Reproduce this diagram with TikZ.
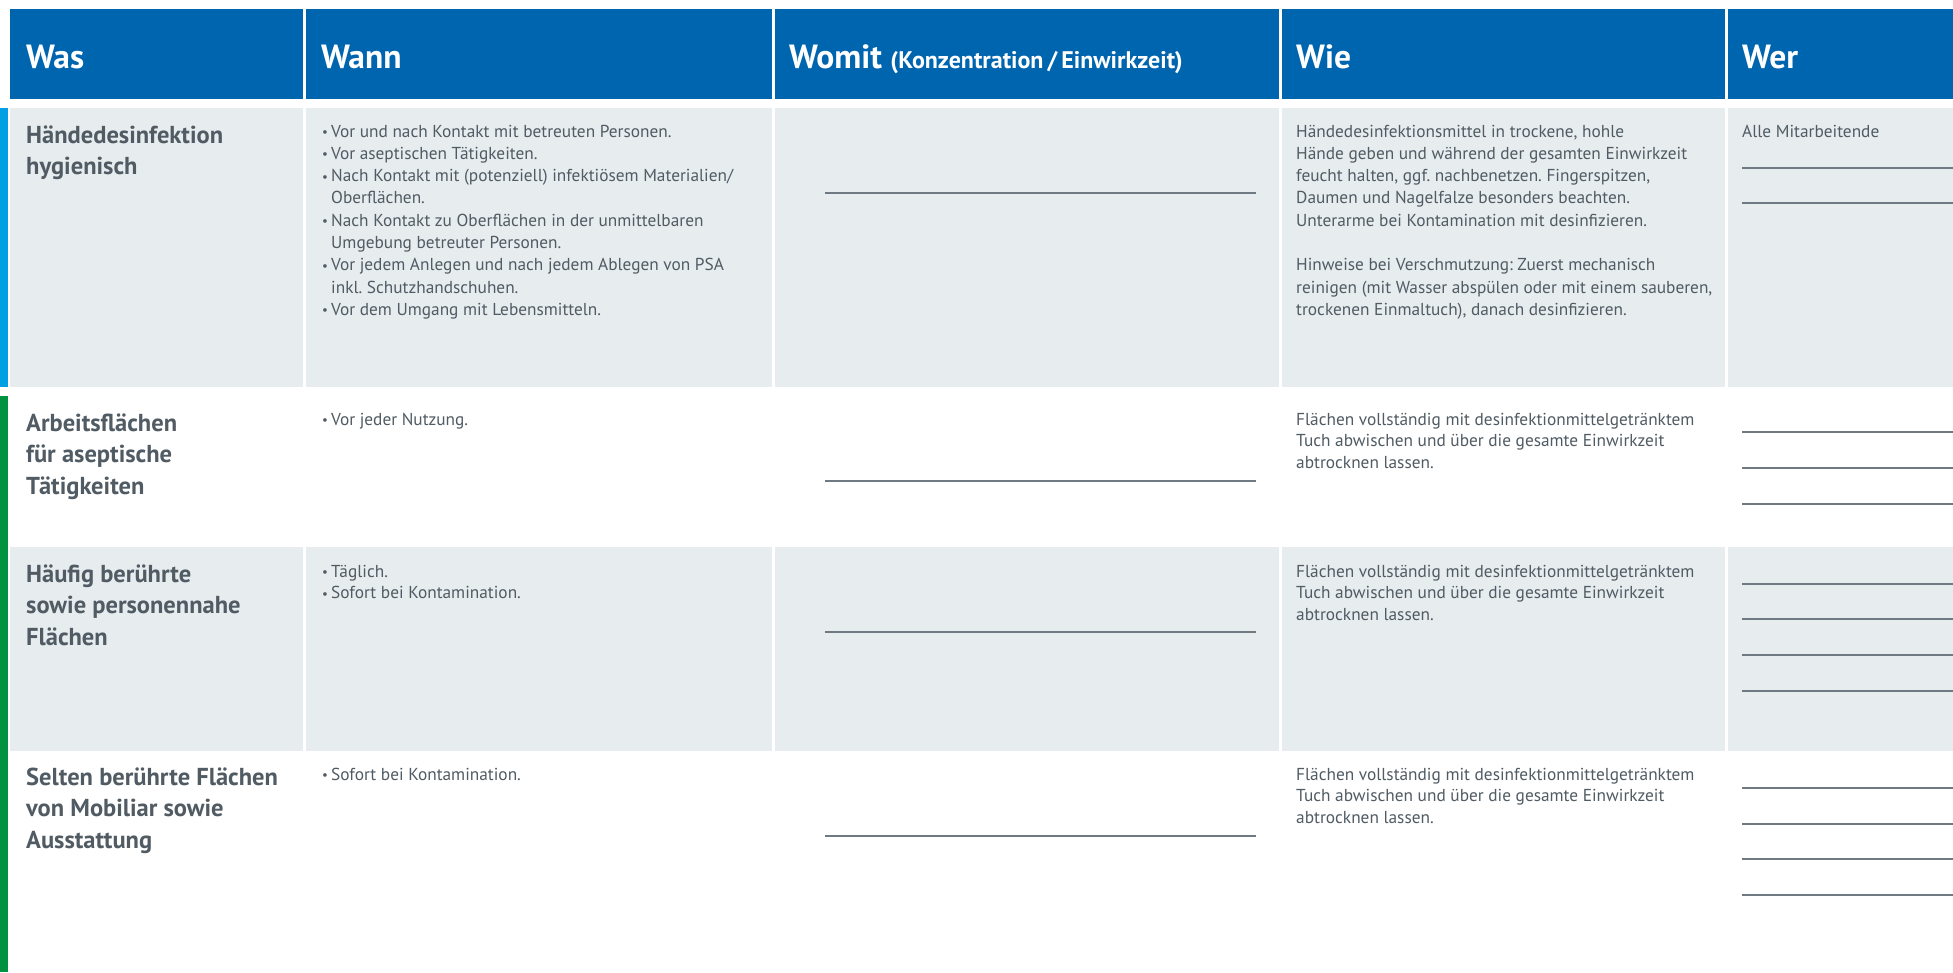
\documentclass[tikz,border=0pt]{standalone}
\usepackage{fontspec}
\setmainfont{PT Sans}
\usetikzlibrary{positioning}
\frenchspacing
\definecolor{hdrBlue}{RGB}{0,101,175}
\definecolor{barBlue}{RGB}{0,160,227}
\definecolor{barGreen}{RGB}{0,146,63}
\definecolor{cellGray}{RGB}{231,236,239}
\definecolor{clrText}{RGB}{80,91,99}
\definecolor{clrLine}{RGB}{110,121,129}
% nodes sit on the baseline of their last line
\tikzstyle{head}=[anchor=base west, inner sep=0pt, text=white, font=\fontsize{33.5}{36}\selectfont\bfseries]
\tikzstyle{rowtitle}=[anchor=base west, inner sep=0pt, align=left, text=clrText, font=\fontsize{24.5}{31.5}\selectfont\bfseries]
\tikzstyle{celltext}=[anchor=base west, inner sep=0pt, align=left, text=clrText, font=\fontsize{17.3}{22.3}\selectfont]
\tikzstyle{celltext2}=[celltext, font=\fontsize{17.3}{21.6}\selectfont]
\tikzstyle{fillline}=[draw=clrLine, line width=1.6pt]
\newcommand{\bul}{\makebox[9pt][l]{\raisebox{0.5pt}{\fontsize{13}{13}\selectfont •}}}
\newcommand{\ind}{\hspace*{9pt}}
\begin{document}
\begin{tikzpicture}[x=1pt, y=-1pt]
		\useasboundingbox[fill=white] (0,0) rectangle (1953,972);

		% Kopfzeile und graue Zeilen
		\foreach \xa/\xb in {10/303, 306/772, 775/1279, 1282/1725, 1728/1953} {
			\fill[hdrBlue] (\xa,9) rectangle (\xb,99);
			\fill[cellGray] (\xa,108) rectangle (\xb,387);
			\fill[cellGray] (\xa,547) rectangle (\xb,751);
		}
		\fill[barBlue] (0,108) rectangle (8,387) ;
		\fill[barGreen] (0,396) rectangle (8,972) ;

		\node[head] (Was) at (26,68) {Was} ;
		\node[head] (Wann) at (321,68) {Wann} ;
		\node[head] (Womit) at (789,68) {Womit {\fontsize{24}{26}\selectfont (Konzentration\,/\,Einwirkzeit)}} ;
		\node[head] (Wie) at (1296,68) {Wie} ;
		\node[head] (Wer) at (1742,68) {Wer} ;

		% Zeile 1
		\node[rowtitle] (L1) at (26,174.5) {Händedesinfektion\\hygienisch} ;
		\node[celltext] (T1) at (322,315.4) {\bul Vor und nach Kontakt mit betreuten Personen.\\
			\bul Vor aseptischen Tätigkeiten.\\
			\bul Nach Kontakt mit (potenziell) infektiösem Materialien/\\
			\ind Oberflächen.\\
			\bul Nach Kontakt zu Oberflächen in der unmittelbaren\\
			\ind Umgebung betreuter Personen.\\
			\bul Vor jedem Anlegen und nach jedem Ablegen von PSA\\
			\ind inkl. Schutzhandschuhen.\\
			\bul Vor dem Umgang mit Lebensmitteln.} ;
		\node[celltext] (H1) at (1296,315.4) {Händedesinfektionsmittel in trockene, hohle\\
			Hände geben und während der gesamten Einwirkzeit\\
			feucht halten, ggf. nachbenetzen. Fingerspitzen,\\
			Daumen und Nagelfalze besonders beachten.\\
			Unterarme bei Kontamination mit desinfizieren.\\[22.3pt]
			Hinweise bei Verschmutzung: Zuerst mechanisch\\
			reinigen (mit Wasser abspülen oder mit einem sauberen,\\
			trockenen Einmaltuch), danach desinfizieren.} ;
		\node[celltext] (P1) at (1742,137) {Alle Mitarbeitende} ;
		\draw[fillline] (825,193) -- (1256,193) ;
		\foreach \y in {168,203} \draw[fillline] (1742,\y) -- (1953,\y) ;

		% Zeile 2
		\node[rowtitle] (L2) at (26,494) {Arbeitsflächen\\für aseptische\\Tätigkeiten} ;
		\node[celltext] (T2) at (322,425) {\bul Vor jeder Nutzung.} ;
		\node[celltext2] (H2) at (1296,468.2) {Flächen vollständig mit desinfektionmittelgetränktem\\
			Tuch abwischen und über die gesamte Einwirkzeit\\
			abtrocknen lassen.} ;
		\draw[fillline] (825,481) -- (1256,481) ;
		\foreach \y in {432,468,504} \draw[fillline] (1742,\y) -- (1953,\y) ;

		% Zeile 3
		\node[rowtitle] (L3) at (26,645) {Häufig berührte\\sowie personennahe\\Flächen} ;
		\node[celltext2] (T3) at (322,598.6) {\bul Täglich.\\\bul Sofort bei Kontamination.} ;
		\node[celltext2] (H3) at (1296,620.2) {Flächen vollständig mit desinfektionmittelgetränktem\\
			Tuch abwischen und über die gesamte Einwirkzeit\\
			abtrocknen lassen.} ;
		\draw[fillline] (825,632) -- (1256,632) ;
		\foreach \y in {584,619,655,691} \draw[fillline] (1742,\y) -- (1953,\y) ;

		% Zeile 4
		\node[rowtitle] (L4) at (26,848) {Selten berührte Flächen\\von Mobiliar sowie\\Ausstattung} ;
		\node[celltext] (T4) at (322,780) {\bul Sofort bei Kontamination.} ;
		\node[celltext2] (H4) at (1296,823.2) {Flächen vollständig mit desinfektionmittelgetränktem\\
			Tuch abwischen und über die gesamte Einwirkzeit\\
			abtrocknen lassen.} ;
		\draw[fillline] (825,836) -- (1256,836) ;
		\foreach \y in {788,824,859,895} \draw[fillline] (1742,\y) -- (1953,\y) ;

	\end{tikzpicture}
\end{document}
